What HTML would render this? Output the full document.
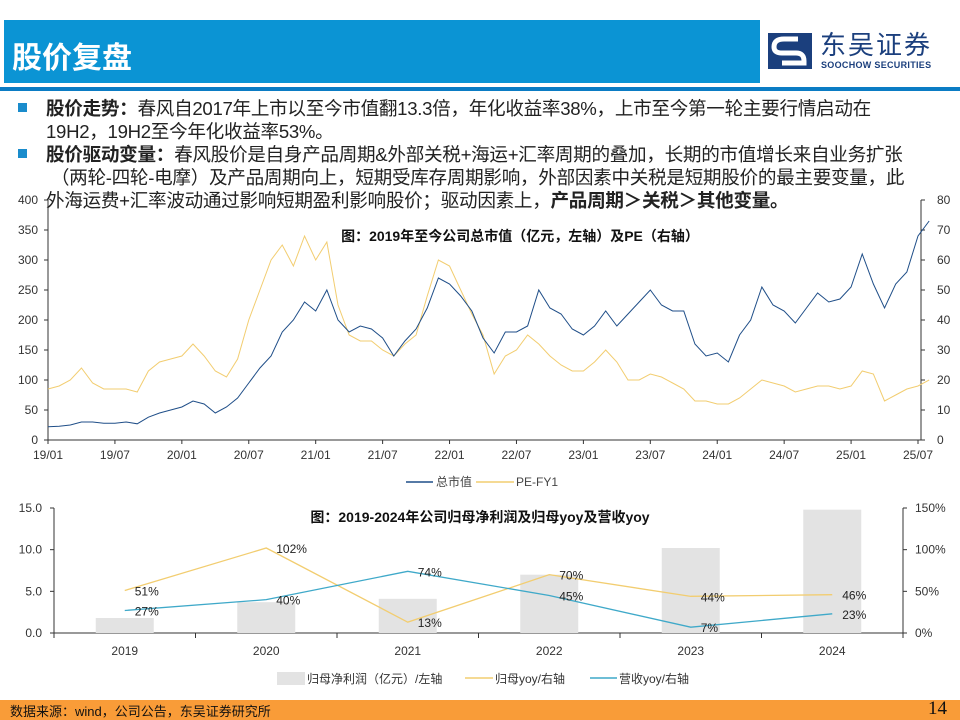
<!DOCTYPE html>
<html><head><meta charset="utf-8"><style>
body{margin:0;width:960px;height:720px;overflow:hidden;background:#fff;font-family:"Liberation Sans","Noto Sans CJK SC",sans-serif;position:relative}
.abs{position:absolute}
.bl{font-size:18.6px;color:#222;line-height:23px;white-space:nowrap;letter-spacing:-0.3px}
.sq{position:absolute;width:9px;height:9px;background:#1a8ccc}
</style></head><body>
<div class="abs" style="left:4px;top:20px;width:756px;height:63px;background:#0b94d4"></div>
<div class="abs" style="left:12px;top:33px;font-size:30px;font-weight:bold;color:#fff">股价复盘</div>
<div class="abs" style="left:0;top:87px;width:960px;height:4px;background:#0b7cc4"></div>
<svg class="abs" style="left:768px;top:33px" width="44" height="36"><rect width="44" height="36" fill="#1b3f7d"/><path d="M30 6 L16 6 Q6 6 6 14 Q6 20 14 20 L28 20 Q36 20 36 28 L36 30 L14 30" fill="none" stroke="#fff" stroke-width="5"/></svg>
<div class="abs" style="left:820px;top:29px;font-size:26px;line-height:30px;color:#1b3f7d;font-family:'Noto Sans CJK SC',sans-serif;letter-spacing:2px">东吴证券</div>
<div class="abs" style="left:821px;top:60px;font-size:9px;font-weight:bold;color:#1b3f7d;letter-spacing:0.3px">SOOCHOW SECURITIES</div>

<div class="sq" style="left:18px;top:103px"></div>
<div class="abs bl" style="left:46px;top:97px"><b>股价走势：</b>春风自2017年上市以至今市值翻13.3倍，年化收益率38%，上市至今第一轮主要行情启动在<br>19H2，19H2至今年化收益率53%。</div>
<div class="sq" style="left:18px;top:149px"></div>
<div class="abs bl" style="left:46px;top:143px"><b>股价驱动变量：</b>春风股价是自身产品周期&amp;外部关税+海运+汇率周期的叠加，长期的市值增长来自业务扩张<br>&nbsp;（两轮-四轮-电摩）及产品周期向上，短期受库存周期影响，外部因素中关税是短期股价的最主要变量，此<br>外海运费+汇率波动通过影响短期盈利影响股价；驱动因素上，<b>产品周期＞关税＞其他变量。</b></div>

<svg class="abs" style="left:0;top:0" width="960" height="720" id="c1" font-family="Liberation Sans, Noto Sans CJK SC, sans-serif">
<text x="520" y="241" text-anchor="middle" font-size="14" font-weight="bold" fill="#111">图：2019年至今公司总市值（亿元，左轴）及PE（右轴）</text>
</svg>
<svg class="abs" style="left:0;top:0" width="960" height="720" id="c2" font-family="Liberation Sans, Noto Sans CJK SC, sans-serif">
<text x="480" y="522" text-anchor="middle" font-size="14" font-weight="bold" fill="#111">图：2019-2024年公司归母净利润及归母yoy及营收yoy</text>
</svg>

<div class="abs" style="left:0;top:700px;width:960px;height:20px;background:#f99c38"></div>
<div class="abs" style="left:10px;top:701px;font-size:13px;color:#111">数据来源：wind，公司公告，东吴证券研究所</div>
<div class="abs" style="left:928px;top:698px;font-size:19px;color:#111;font-family:'Liberation Serif',serif">14</div>

<script>
const months1 = ["19/01","19/07","20/01","20/07","21/01","21/07","22/01","22/07","23/01","23/07","24/01","24/07","25/01","25/07"];
const leftTicks1 = [0,50,100,150,200,250,300,350,400];
const rightTicks1 = [0,10,20,30,40,50,60,70,80];
const mcap = [22,23,25,30,30,28,28,30,27,38,45,50,55,65,60,45,55,70,95,120,140,180,200,230,215,250,200,180,190,185,170,140,165,185,220,270,260,240,215,170,145,180,180,190,250,220,210,185,175,190,215,190,210,230,250,225,215,215,160,140,145,130,175,200,255,225,215,195,220,245,230,235,255,310,260,220,260,280,340,365];
const pe = [17,18,20,24,19,17,17,17,16,23,26,27,28,32,28,23,21,27,40,50,60,65,58,68,60,66,45,35,33,33,30,28,32,35,48,60,58,50,42,35,22,28,30,35,32,28,25,23,23,26,30,26,20,20,22,21,19,17,13,13,12,12,14,17,20,19,18,16,17,18,18,17,18,23,22,13,15,17,18,20];
const years2 = ["2019","2020","2021","2022","2023","2024"];
const profit = [1.8,3.7,4.1,7.0,10.2,14.8];
const profitYoy = [51,102,13,70,44,46];
const revYoy = [27,40,74,45,7,23];
const leftTicks2 = [0,5,10,15];
const rightTicks2 = [0,50,100,150];

const NS="http://www.w3.org/2000/svg";
function mk(svg,tag,attrs,txt){const e=document.createElementNS(NS,tag);for(const k in attrs)e.setAttribute(k,attrs[k]);if(txt!==undefined)e.textContent=txt;svg.appendChild(e);return e;}

// chart 1
const s1=document.getElementById('c1');
const X0=48,X1=921,Y0=440,Y1=200,pm=(918-48)/78;
const xm=i=>X0+i*pm, yl=v=>Y0-(v/400)*(Y0-Y1), yr=v=>Y0-(v/80)*(Y0-Y1);
let e;
e=mk(s1,'line',{x1:X0,y1:Y1,x2:X0,y2:Y0,stroke:'#333'});


e=mk(s1,'line',{x1:X1,y1:Y1,x2:X1,y2:Y0,stroke:'#333'});


e=mk(s1,'line',{x1:X0,y1:Y0,x2:X1,y2:Y0,stroke:'#333'});


leftTicks1.forEach(v=>{mk(s1,'line',{x1:X0-4,x2:X0,y1:yl(v),y2:yl(v),stroke:'#333'});
e=mk(s1,'text',{x:X0-10,y:yl(v)+4,'text-anchor':'end','font-size':12,fill:'#333'},v);

});
rightTicks1.forEach(v=>{mk(s1,'line',{x1:X1,x2:X1+4,y1:yr(v),y2:yr(v),stroke:'#333'});
e=mk(s1,'text',{x:X1+16,y:yr(v)+4,'font-size':12,fill:'#333'},v);

});
months1.forEach((m,i)=>{const x=xm(i*6);mk(s1,'line',{x1:x,x2:x,y1:Y0,y2:Y0+4,stroke:'#333'});
e=mk(s1,'text',{x:x,y:459,'text-anchor':'middle','font-size':12,fill:'#333'},m);

});
e=mk(s1,'polyline',{points:pe.map((v,i)=>xm(i)+','+yr(v)).join(' '),fill:'none',stroke:'#f2cd70','stroke-width':1});


e=mk(s1,'polyline',{points:mcap.map((v,i)=>xm(i)+','+yl(v)).join(' '),fill:'none',stroke:'#1f4e88','stroke-width':1});


mk(s1,'line',{x1:406,x2:433,y1:482,y2:482,stroke:'#1f4e88','stroke-width':1.5});
e=mk(s1,'text',{x:436,y:486,'font-size':12,fill:'#444'},'总市值');


mk(s1,'line',{x1:476,x2:514,y1:482,y2:482,stroke:'#f2cd70','stroke-width':1.5});
e=mk(s1,'text',{x:516,y:486,'font-size':12,fill:'#444'},'PE-FY1');



// chart 2
const s2=document.getElementById('c2');
const A0=54,A1=903,B0=633,B1=508,cw=(A1-A0)/6;
const xc=i=>A0+cw*(i+0.5), yL=v=>B0-(v/15)*(B0-B1), yR=v=>B0-(v/150)*(B0-B1);
e=mk(s2,'line',{x1:A0,y1:B1,x2:A0,y2:B0,stroke:'#333'});


e=mk(s2,'line',{x1:A1,y1:B1,x2:A1,y2:B0,stroke:'#333'});


e=mk(s2,'line',{x1:A0,y1:B0,x2:A1,y2:B0,stroke:'#333'});


for(let i=0;i<=6;i++)mk(s2,'line',{x1:A0+cw*i,x2:A0+cw*i,y1:B0,y2:B0+5,stroke:'#333'});
leftTicks2.forEach(v=>{mk(s2,'line',{x1:A0-4,x2:A0,y1:yL(v),y2:yL(v),stroke:'#333'});
e=mk(s2,'text',{x:A0-12,y:yL(v)+4,'text-anchor':'end','font-size':12,fill:'#333'},v.toFixed(1));

});
rightTicks2.forEach(v=>{mk(s2,'line',{x1:A1,x2:A1+4,y1:yR(v),y2:yR(v),stroke:'#333'});
e=mk(s2,'text',{x:A1+12,y:yR(v)+4,'font-size':12,fill:'#333'},v+'%');

});
years2.forEach((y,i)=>{
e=mk(s2,'text',{x:xc(i),y:655,'text-anchor':'middle','font-size':12,fill:'#333'},y);


e=mk(s2,'rect',{x:xc(i)-29,y:yL(profit[i]),width:58,height:B0-yL(profit[i]),fill:'#e3e3e3'});

});
e=mk(s2,'polyline',{points:profitYoy.map((v,i)=>xc(i)+','+yR(v)).join(' '),fill:'none',stroke:'#f2cd70','stroke-width':1.3});


e=mk(s2,'polyline',{points:revYoy.map((v,i)=>xc(i)+','+yR(v)).join(' '),fill:'none',stroke:'#3fa9c9','stroke-width':1.3});


profitYoy.forEach((v,i)=>{e=mk(s2,'text',{x:xc(i)+10,y:yR(v)+5,'font-size':12,fill:'#222'},v+'%');

});
revYoy.forEach((v,i)=>{e=mk(s2,'text',{x:xc(i)+10,y:yR(v)+5,'font-size':12,fill:'#222'},v+'%');

});
mk(s2,'rect',{x:277,y:672,width:28,height:13,fill:'#e3e3e3'});
e=mk(s2,'text',{x:307,y:683,'font-size':12,fill:'#333'},'归母净利润（亿元）/左轴');


mk(s2,'line',{x1:465,x2:493,y1:678,y2:678,stroke:'#f2cd70','stroke-width':1.5});
e=mk(s2,'text',{x:495,y:683,'font-size':12,fill:'#333'},'归母yoy/右轴');


mk(s2,'line',{x1:590,x2:617,y1:678,y2:678,stroke:'#3fa9c9','stroke-width':1.5});
e=mk(s2,'text',{x:619,y:683,'font-size':12,fill:'#333'},'营收yoy/右轴');


</script>
</body></html>
